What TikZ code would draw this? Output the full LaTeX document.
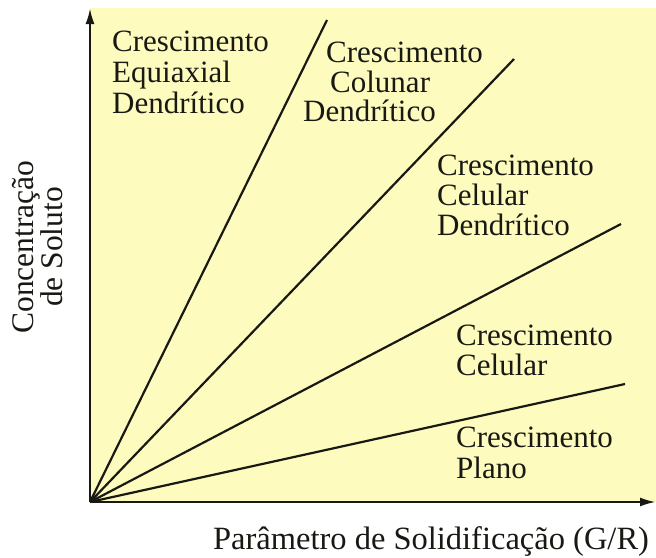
\documentclass[tikz,border=0pt]{standalone}
\usepackage{fontspec}
\setmainfont{Liberation Serif}
\usetikzlibrary{arrows.meta}
\definecolor{bgyellow}{RGB}{253,251,190}
\definecolor{inkc}{RGB}{25,25,20}
\begin{document}
\begin{tikzpicture}[x=1pt,y=-1pt,
  lbl/.style={inner sep=0pt,font=\fontsize{31}{31}\selectfont,text=inkc,anchor=base west},
  ray/.style={line width=2.2pt,draw=inkc},
  axis/.style={line width=2.4pt,draw=inkc,-{Latex[length=16pt,width=9pt]}}]
\useasboundingbox (0,0) rectangle (656,557);
\fill[bgyellow] (90,8) rectangle (656,502);
\coordinate (O) at (90,502);
\coordinate (ytop) at (90,8);
\coordinate (xend) at (656,502);
\coordinate (e1) at (327,20);
\coordinate (e2) at (514,59);
\coordinate (e3) at (621,224);
\coordinate (e4) at (625,384);
\draw[ray] (O) -- (e1);
\draw[ray] (O) -- (e2);
\draw[ray] (O) -- (e3);
\draw[ray] (O) -- (e4);
\draw[axis] (O) -- (ytop);
\draw[axis] (O) -- (xend);
% block 1
\node[lbl] (a1) at (112,51) {Crescimento};
\node[lbl] (a2) at (112,82) {Equiaxial};
\node[lbl] (a3) at (112,113) {Dendrítico};
% block 2
\node[lbl] (b1) at (326,62) {Crescimento};
\node[lbl] (b2) at (330,92) {Colunar};
\node[lbl] (b3) at (303,121) {Dendrítico};
% block 3
\node[lbl] (c1) at (437,175) {Crescimento};
\node[lbl] (c2) at (437,205) {Celular};
\node[lbl] (c3) at (437,235) {Dendrítico};
% block 4
\node[lbl] (d1) at (456,345) {Crescimento};
\node[lbl] (d2) at (456,375) {Celular};
% block 5
\node[lbl] (f1) at (456,447) {Crescimento};
\node[lbl] (f2) at (456,478) {Plano};
% axis labels
\node[lbl,anchor=base,font=\fontsize{32.5}{32.5}\selectfont] (xl) at (431,549) {Parâmetro de Solidificação (G/R)};
\node[lbl,anchor=base,rotate=90,font=\fontsize{31.5}{31.5}\selectfont] (yl1) at (34,247) {Concentração};
\node[lbl,anchor=base,rotate=90,font=\fontsize{31.5}{31.5}\selectfont] (yl2) at (62,247) {de Soluto};
\end{tikzpicture}
\end{document}
